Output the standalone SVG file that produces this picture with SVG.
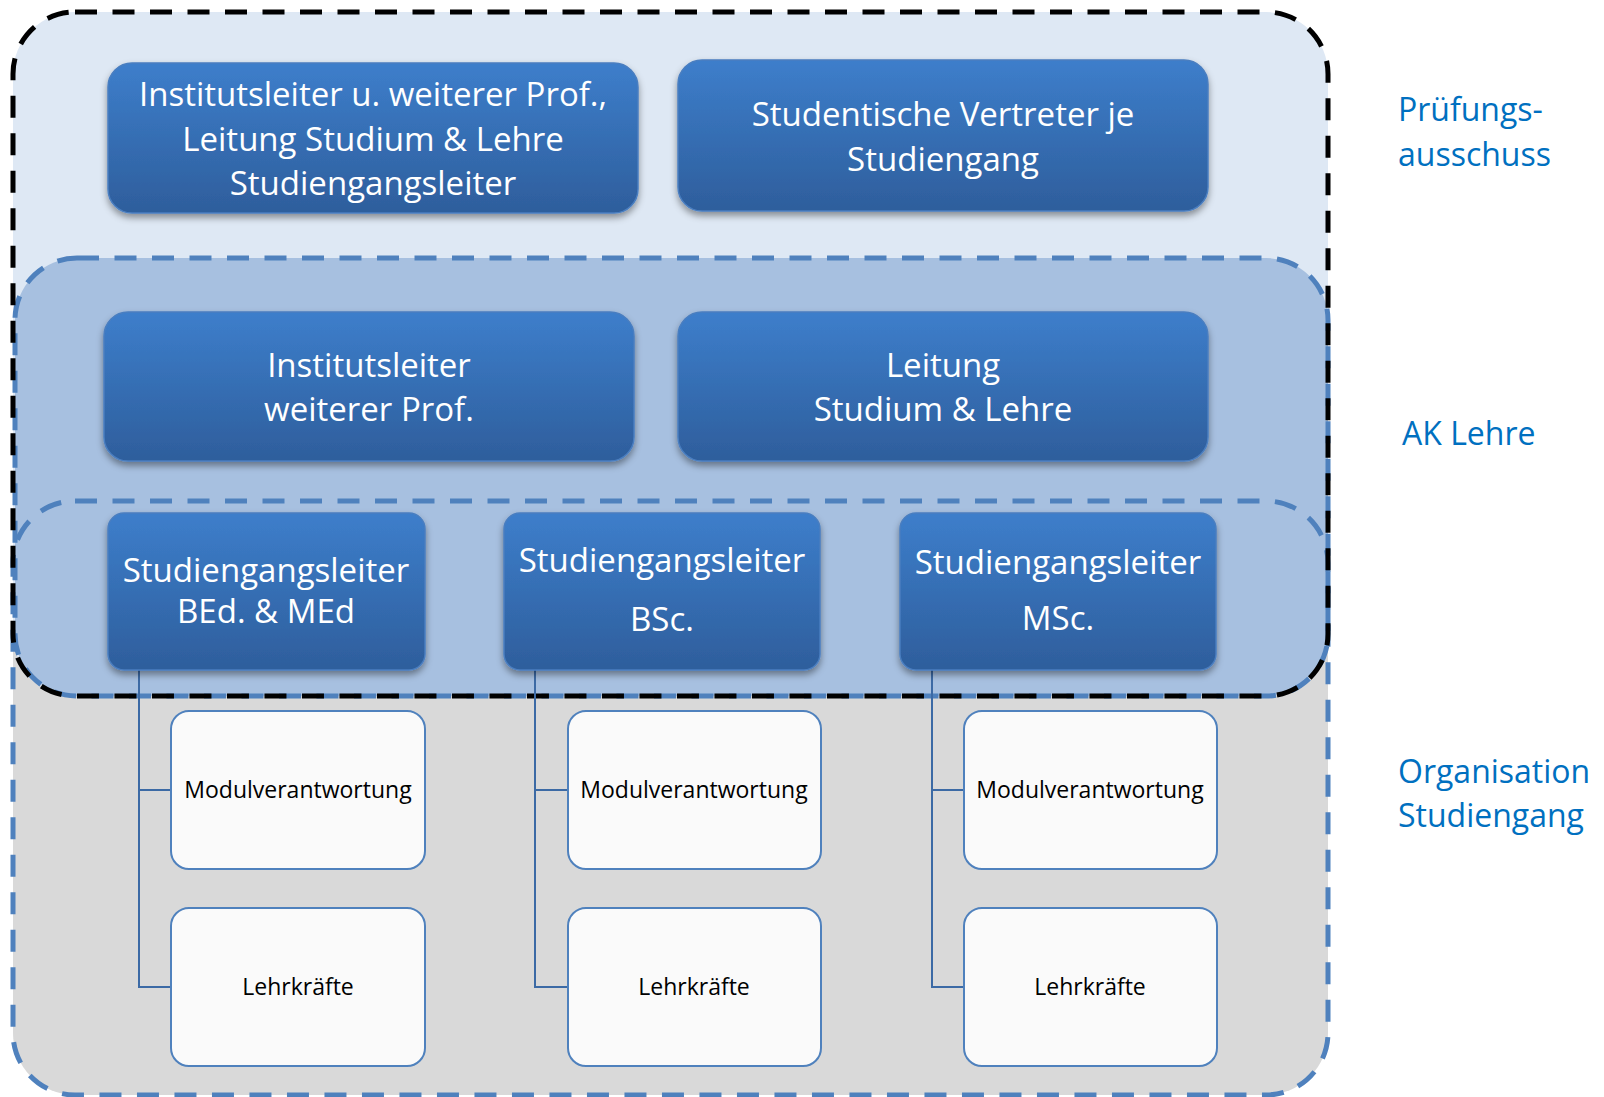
<svg xmlns="http://www.w3.org/2000/svg" width="1604" height="1097" viewBox="0 0 1604 1097">
<defs>
<linearGradient id="gBlue" x1="0" y1="0" x2="0" y2="1">
<stop offset="0" stop-color="#3D7ECB"/>
<stop offset="1" stop-color="#2E5E9C"/>
</linearGradient>
<filter id="sh" x="-10%" y="-10%" width="120%" height="130%">
<feDropShadow dx="0" dy="4" stdDeviation="3.5" flood-color="#000" flood-opacity="0.4"/>
</filter>
</defs>
<style>
.bn{fill:url(#gBlue);stroke:#4A7EC0;stroke-width:1.5;filter:url(#sh)}
.wb{fill:#FAFAFA;stroke:#4F81BD;stroke-width:2}
.bt{font-family:"Open Sans","Noto Sans",sans-serif;font-size:33px;fill:#FFFFFF;text-anchor:middle}
.wt{font-family:"Open Sans","Noto Sans",sans-serif;font-size:23px;fill:#000000;text-anchor:middle}
.lb{font-family:"Open Sans","Noto Sans",sans-serif;font-size:32px;fill:#0070C0}
.dashB{fill:none;stroke:#000;stroke-width:5;stroke-dasharray:22 15.5}
.dashL{fill:none;stroke:#4F81BD;stroke-width:5;stroke-dasharray:22 15.5}
.con{fill:none;stroke:#3C6AA5;stroke-width:2}
</style>

<g id="regions">
<rect x="13" y="501" width="1315" height="594" rx="62" fill="#D9D9D9"/>
<rect x="13" y="12" width="1315" height="684" rx="62" fill="#DEE8F4"/>
<rect x="15" y="258" width="1313" height="438" rx="62" fill="#A7C0E0"/>
<rect id="organisation-outline" x="13" y="501" width="1315" height="594" rx="62" class="dashL"/>
<rect id="aklehre-outline" x="15" y="258" width="1313" height="438" rx="62" class="dashL"/>
<rect id="pruefung-outline" x="13" y="12" width="1315" height="684" rx="62" class="dashB"/>
</g>

<g id="connectors">
<path class="con" d="M139 670 V987 H171 M139 790 H171"/>
<path class="con" d="M535 670 V987 H568 M535 790 H568"/>
<path class="con" d="M932 670 V987 H964 M932 790 H964"/>
</g>

<g id="node-institut-pa">
<rect class="bn" x="108" y="63" width="530" height="150" rx="24"/>
<text class="bt" x="373" y="106">Institutsleiter u. weiterer Prof.,</text>
<text class="bt" x="373" y="151">Leitung Studium &amp; Lehre</text>
<text class="bt" x="373" y="195">Studiengangsleiter</text>
</g>
<g id="node-studentische">
<rect class="bn" x="678" y="60" width="530" height="151" rx="24"/>
<text class="bt" x="943" y="126">Studentische Vertreter je</text>
<text class="bt" x="943" y="171">Studiengang</text>
</g>
<g id="node-institut-ak">
<rect class="bn" x="104" y="312" width="530" height="149" rx="24"/>
<text class="bt" x="369" y="377">Institutsleiter</text>
<text class="bt" x="369" y="421">weiterer Prof.</text>
</g>
<g id="node-leitung">
<rect class="bn" x="678" y="312" width="530" height="149" rx="24"/>
<text class="bt" x="943" y="377">Leitung</text>
<text class="bt" x="943" y="421">Studium &amp; Lehre</text>
</g>
<g id="node-sgl-bed">
<rect class="bn" x="108" y="513" width="317" height="157" rx="16"/>
<text class="bt" x="266" y="582">Studiengangsleiter</text>
<text class="bt" x="266" y="623">BEd. &amp; MEd</text>
</g>
<g id="node-sgl-bsc">
<rect class="bn" x="504" y="513" width="316" height="157" rx="16"/>
<text class="bt" x="662" y="572">Studiengangsleiter</text>
<text class="bt" x="662" y="631">BSc.</text>
</g>
<g id="node-sgl-msc">
<rect class="bn" x="900" y="513" width="316" height="157" rx="16"/>
<text class="bt" x="1058" y="574">Studiengangsleiter</text>
<text class="bt" x="1058" y="630">MSc.</text>
</g>

<g id="node-modul-1"><rect class="wb" x="171" y="711" width="254" height="158" rx="18"/><text class="wt" x="298" y="798">Modulverantwortung</text></g>
<g id="node-lehr-1"><rect class="wb" x="171" y="908" width="254" height="158" rx="18"/><text class="wt" x="298" y="995">Lehrkräfte</text></g>
<g id="node-modul-2"><rect class="wb" x="568" y="711" width="253" height="158" rx="18"/><text class="wt" x="694" y="798">Modulverantwortung</text></g>
<g id="node-lehr-2"><rect class="wb" x="568" y="908" width="253" height="158" rx="18"/><text class="wt" x="694" y="995">Lehrkräfte</text></g>
<g id="node-modul-3"><rect class="wb" x="964" y="711" width="253" height="158" rx="18"/><text class="wt" x="1090" y="798">Modulverantwortung</text></g>
<g id="node-lehr-3"><rect class="wb" x="964" y="908" width="253" height="158" rx="18"/><text class="wt" x="1090" y="995">Lehrkräfte</text></g>

<g id="labels">
<text class="lb" x="1398" y="121">Prüfungs-</text>
<text class="lb" x="1398" y="166">ausschuss</text>
<text class="lb" x="1402" y="445">AK Lehre</text>
<text class="lb" x="1398" y="783">Organisation</text>
<text class="lb" x="1398" y="827">Studiengang</text>
</g>
</svg>
